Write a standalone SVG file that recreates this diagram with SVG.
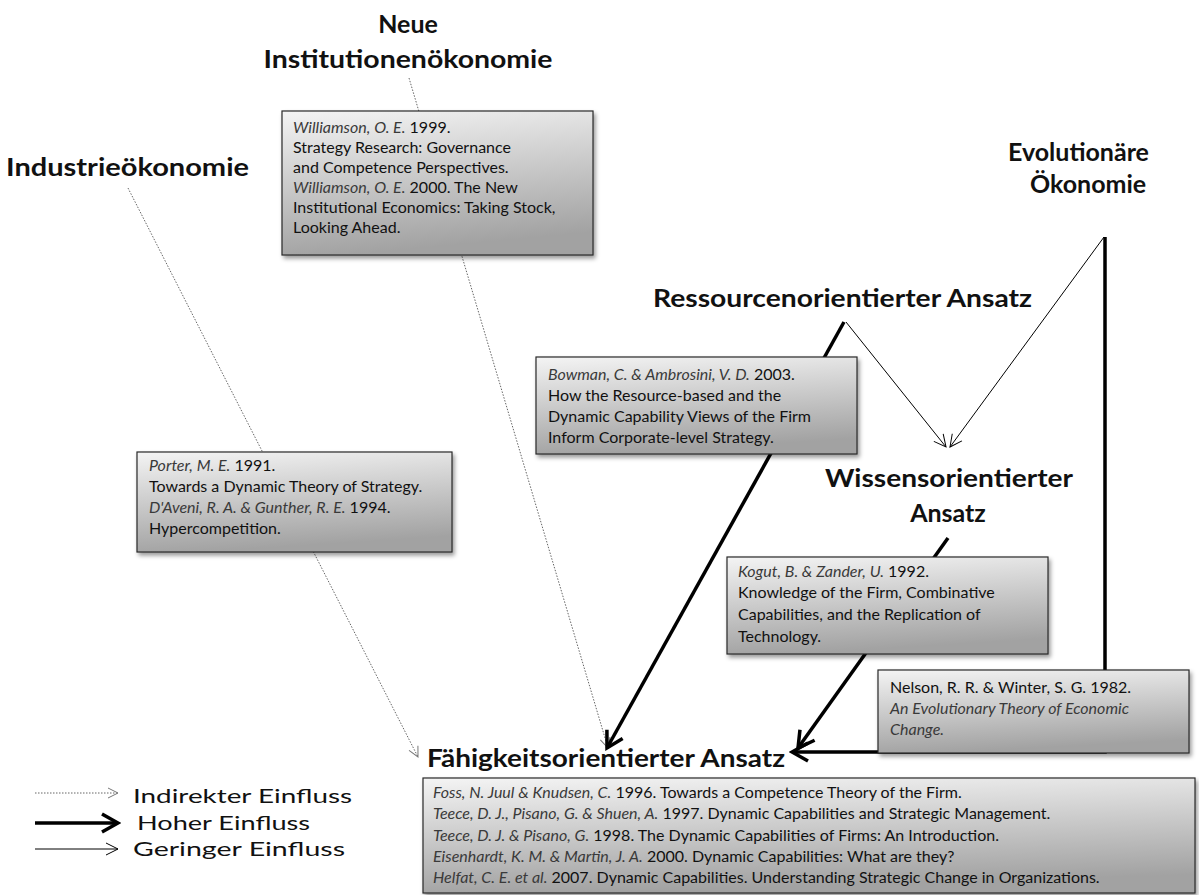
<svg xmlns="http://www.w3.org/2000/svg" width="1199" height="895" viewBox="0 0 1199 895">
<defs>
<linearGradient id="boxg" x1="0" y1="0" x2="0.2" y2="1">
<stop offset="0" stop-color="#f4f4f4"/>
<stop offset="1" stop-color="#a2a2a2"/>
</linearGradient>
<filter id="sh" x="-5%" y="-5%" width="115%" height="130%">
<feDropShadow dx="2" dy="3" stdDeviation="2" flood-color="#000" flood-opacity="0.4"/>
</filter>
<marker id="mi" viewBox="0 0 12 12" refX="11" refY="6" markerWidth="12" markerHeight="12" markerUnits="userSpaceOnUse" orient="auto">
<path d="M1,1 L11,6 L1,11" fill="none" stroke="#777" stroke-width="1"/>
</marker>
<marker id="mt" viewBox="0 0 14 14" refX="13" refY="7" markerWidth="14" markerHeight="14" markerUnits="userSpaceOnUse" orient="auto">
<path d="M1,1 L13,7 L1,13" fill="none" stroke="#000" stroke-width="1"/>
</marker>
<marker id="mk" viewBox="0 0 22 22" refX="19" refY="11" markerWidth="22" markerHeight="22" markerUnits="userSpaceOnUse" orient="auto">
<path d="M3,2 L19,11 L3,20" fill="none" stroke="#000" stroke-width="3.5"/>
</marker>
</defs>
<style>
.h{font-family:Lato,"Liberation Sans",sans-serif;font-size:25px;font-weight:bold;fill:#111}
.t{font-family:Lato,"Liberation Sans",sans-serif;font-size:16px;fill:#111}
.i{font-style:italic;fill:#3a3a3a}
.lg{font-family:Lato,"Liberation Sans",sans-serif;font-size:20px;fill:#111}
.box{fill:url(#boxg);stroke:#2a2a2a;stroke-width:1.2;filter:url(#sh)}
.ind{stroke:#666;stroke-width:1;stroke-dasharray:1.5 1.5;fill:none}
.thin{stroke:#000;stroke-width:1;fill:none}
.thick{stroke:#000;stroke-width:3.5;fill:none}
</style>
<rect width="1199" height="895" fill="#fff"/>

<g id="connectors">
<path class="ind" d="M128,188 L418,757" marker-end="url(#mi)"/>
<path class="ind" d="M409,78 L608,748" marker-end="url(#mi)"/>
<path class="thick" d="M844,322 L607,748" marker-end="url(#mk)"/>
<path class="thin" d="M846,322 L946,447" marker-end="url(#mt)"/>
<path class="thin" d="M1104,237 L950,447" marker-end="url(#mt)"/>
<path class="thick" d="M1105,237 L1105,752 L792,752" marker-end="url(#mk)"/>
<path class="thick" d="M948,538 L798,748" marker-end="url(#mk)"/>
</g>

<g id="n-neue"><text class="h" x="408" y="33" text-anchor="middle">Neue</text><text class="h" x="408" y="68" text-anchor="middle" textLength="289" lengthAdjust="spacingAndGlyphs">Institutionenökonomie</text></g>
<g id="n-industrie"><text class="h" x="6" y="176" textLength="243" lengthAdjust="spacingAndGlyphs">Industrieökonomie</text></g>
<g id="n-evol"><text class="h" x="1008" y="161">Evolutionäre</text><text class="h" x="1030" y="193">Ökonomie</text></g>
<g id="n-ress"><text class="h" x="653" y="307" textLength="379" lengthAdjust="spacingAndGlyphs">Ressourcenorientierter Ansatz</text></g>
<g id="n-wissen"><text class="h" x="825" y="487" textLength="248" lengthAdjust="spacingAndGlyphs">Wissensorientierter</text><text class="h" x="948" y="522" text-anchor="middle">Ansatz</text></g>
<g id="n-faehig"><text class="h" x="427" y="767" textLength="358" lengthAdjust="spacingAndGlyphs">Fähigkeitsorientierter Ansatz</text></g>

<g id="box-williamson">
<rect class="box" x="282" y="111" width="311" height="144"/>
<text class="t" x="293" y="133"><tspan class="i">Williamson, O. E.</tspan> 1999.</text>
<text class="t" x="293" y="153">Strategy Research: Governance</text>
<text class="t" x="293" y="173">and Competence Perspectives.</text>
<text class="t" x="293" y="193"><tspan class="i">Williamson, O. E.</tspan> 2000. The New</text>
<text class="t" x="293" y="213">Institutional Economics: Taking Stock,</text>
<text class="t" x="293" y="233">Looking Ahead.</text>
</g>

<g id="box-porter">
<rect class="box" x="137" y="452" width="315" height="100"/>
<text class="t" x="149" y="471"><tspan class="i">Porter, M. E.</tspan> 1991.</text>
<text class="t" x="149" y="492">Towards a Dynamic Theory of Strategy.</text>
<text class="t" x="149" y="513"><tspan class="i">D'Aveni, R. A. &amp; Gunther, R. E.</tspan> 1994.</text>
<text class="t" x="149" y="534">Hypercompetition.</text>
</g>

<g id="box-bowman">
<rect class="box" x="536" y="357" width="321" height="97"/>
<text class="t" x="548" y="380"><tspan class="i">Bowman, C. &amp; Ambrosini, V. D.</tspan> 2003.</text>
<text class="t" x="548" y="401"> How the Resource-based and the</text>
<text class="t" x="548" y="422">Dynamic Capability Views of the Firm</text>
<text class="t" x="548" y="443">Inform Corporate-level Strategy.</text>
</g>

<g id="box-kogut">
<rect class="box" x="727" y="557" width="321" height="97"/>
<text class="t" x="738" y="577"><tspan class="i">Kogut, B. &amp; Zander, U.</tspan> 1992.</text>
<text class="t" x="738" y="598">Knowledge of the Firm,  Combinative</text>
<text class="t" x="738" y="620">Capabilities, and the Replication of</text>
<text class="t" x="738" y="642">Technology.</text>
</g>

<g id="box-nelson">
<rect class="box" x="878" y="670" width="311" height="83"/>
<text class="t" x="890" y="693">Nelson, R. R. &amp; Winter, S. G. 1982.</text>
<text class="t i" x="890" y="714">An Evolutionary Theory of Economic</text>
<text class="t i" x="890" y="735">Change.</text>
</g>

<g id="box-faehig">
<rect class="box" x="423" y="778" width="772" height="115"/>
<text class="t" x="433" y="798"><tspan class="i">Foss, N. Juul &amp; Knudsen, C.</tspan> 1996. Towards a Competence Theory of the Firm.</text>
<text class="t" x="433" y="819"><tspan class="i">Teece, D. J., Pisano, G. &amp; Shuen, A.</tspan> 1997. Dynamic Capabilities and Strategic Management.</text>
<text class="t" x="433" y="841"><tspan class="i">Teece, D. J. &amp; Pisano, G.</tspan> 1998. The Dynamic Capabilities of Firms: An Introduction.</text>
<text class="t" x="433" y="862"><tspan class="i">Eisenhardt, K. M. &amp; Martin, J. A.</tspan> 2000. Dynamic Capabilities: What are they?</text>
<text class="t" x="433" y="883"><tspan class="i">Helfat, C. E. et al.</tspan> 2007. Dynamic Capabilities. Understanding Strategic Change in Organizations.</text>
</g>

<g id="legend">
<path class="ind" d="M35,793 L118,793" marker-end="url(#mi)"/>
<path class="thick" d="M35,823 L118,823" marker-end="url(#mk)"/>
<path class="thin" d="M35,849 L118,849" marker-end="url(#mt)"/>
<text class="lg" x="133" y="803" textLength="219" lengthAdjust="spacingAndGlyphs">Indirekter Einfluss</text>
<text class="lg" x="137" y="830" textLength="173" lengthAdjust="spacingAndGlyphs">Hoher Einfluss</text>
<text class="lg" x="133" y="856" textLength="212" lengthAdjust="spacingAndGlyphs">Geringer Einfluss</text>
</g>
</svg>
